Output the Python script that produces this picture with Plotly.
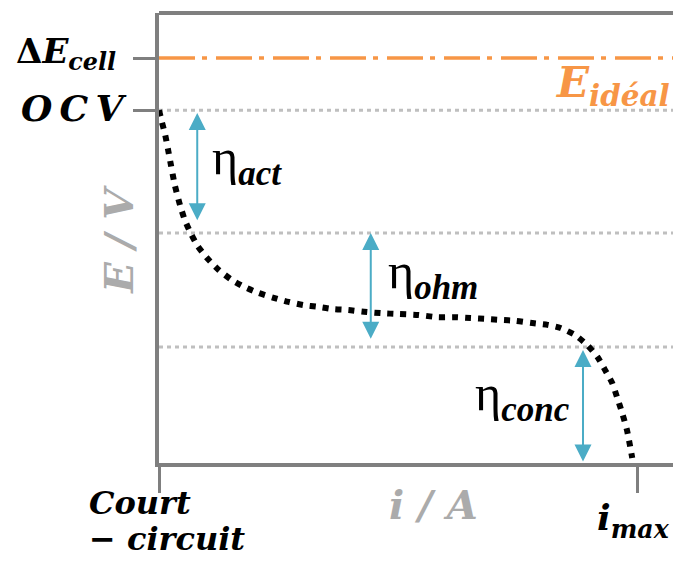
import plotly.graph_objects as go

# Polarisation curve of the cell (current normalised to i_max, potential normalised)
i_curve = [0.000, 0.006, 0.013, 0.019, 0.025, 0.033, 0.044, 0.054, 0.067, 0.081,
           0.100, 0.125, 0.152, 0.179, 0.208, 0.240, 0.271, 0.302, 0.333, 0.365,
           0.396, 0.429, 0.465, 0.502, 0.542, 0.583, 0.621, 0.652, 0.688, 0.715,
           0.746, 0.781, 0.813, 0.840, 0.871, 0.896, 0.917, 0.933, 0.948, 0.958,
           0.969, 0.979, 0.990]
e_curve = [0.784, 0.758, 0.729, 0.696, 0.662, 0.618, 0.573, 0.540, 0.509, 0.482,
           0.456, 0.429, 0.407, 0.391, 0.378, 0.367, 0.358, 0.351, 0.347, 0.342,
           0.340, 0.336, 0.333, 0.331, 0.329, 0.324, 0.324, 0.322, 0.320, 0.318,
           0.316, 0.311, 0.307, 0.300, 0.284, 0.262, 0.236, 0.207, 0.178, 0.147,
           0.111, 0.073, 0.011]

# Characteristic potential levels
e_ideal = 0.900
ocv = 0.784
act_end = 0.511
ohm_end = 0.258

# Overpotential arrows: x position, top, bottom
eta_names = ["act", "ohm", "conc"]
eta_x = [0.080, 0.443, 0.887]
eta_top = [0.778, 0.511, 0.251]
eta_bottom = [0.536, 0.273, 0.000]

GREY = "#7F7F7F"
LIGHT = "#BFBFBF"
ORANGE = "#F79646"
BLUE = "#4BACC6"
ETA_FONT = "Liberation Serif, DejaVu Serif, serif"
FONT = "DejaVu Serif, Liberation Serif, serif"

fig = go.Figure()

fig.add_trace(
    go.Scatter(
        x=i_curve,
        y=e_curve,
        mode="lines",
        line=dict(color="black", width=6, dash="6px,7px", shape="spline", smoothing=0.6),
        hoverinfo="skip",
        showlegend=False,
    )
)

# dotted reference levels
for level in [ocv, act_end, ohm_end]:
    fig.add_shape(
        type="line", xref="paper", x0=0, x1=1, yref="y", y0=level, y1=level,
        line=dict(color=LIGHT, width=3, dash="4px,4px"), layer="below",
    )

# ideal potential
fig.add_shape(
    type="line", xref="paper", x0=0, x1=1, yref="y", y0=e_ideal, y1=e_ideal,
    line=dict(color=ORANGE, width=3.5, dash="36px,7px,5px,9px"),
)

# top frame line
fig.add_shape(
    type="line", xref="paper", x0=0, x1=1, yref="paper", y0=1, y1=1,
    line=dict(color=GREY, width=4),
)

annotations = []

# double arrows for overpotentials
for x, top, bottom in zip(eta_x, eta_top, eta_bottom):
    annotations.append(
        dict(
            x=x, y=top, ax=x, ay=bottom, xref="x", yref="y", axref="x", ayref="y",
            text="", showarrow=True, arrowside="end+start",
            arrowhead=2, startarrowhead=2, arrowsize=1.7, startarrowsize=1.7,
            arrowwidth=2, arrowcolor=BLUE, standoff=0, startstandoff=0,
        )
    )

eta_font = dict(family=ETA_FONT, size=50, color="black")
annotations += [
    dict(x=0.107, y=0.672, xanchor="left", yanchor="middle",
         text="η<sub><b><i>act</i></b></sub>"),
    dict(x=0.475, y=0.418, xanchor="left", yanchor="middle",
         text="η<sub><b><i>ohm</i></b></sub>"),
    dict(x=0.864, y=0.146, xanchor="right", yanchor="middle",
         text="η<sub><b><i>conc</i></b></sub>"),
    dict(x=0.826, y=0.838, xanchor="left", yanchor="middle",
         text="<b><i>E</i></b><sub><b><i>idéal</i></b></sub>",
         font=dict(family=FONT, size=42, color=ORANGE)),
]
for a in annotations[-4:]:
    a.update(xref="x", yref="y", showarrow=False)
    a.setdefault("font", eta_font)

# labels outside the plotting area (paper coordinates)
label_font = dict(family=FONT, size=32, color="black")
axis_font = dict(family=FONT, size=40, color="#ABABAB")
annotations += [
    dict(x=-0.0785, y=0.911, xanchor="right", yanchor="middle",
         text="<b>Δ</b><b><i>E</i></b><sub><b><i>cell</i></b></sub>",
         font=dict(family=FONT, size=34, color="black")),
    dict(x=-0.0594, y=0.789, xanchor="right", yanchor="middle",
         text="<b><i>O\u2009C\u2009V</i></b>",
         font=dict(family=FONT, size=36, color="black")),
    dict(x=-0.0766, y=0.496, xanchor="center", yanchor="middle", textangle=-90,
         text="<b><i>E / V</i></b>", font=axis_font),
    dict(x=0.525, y=-0.093, xanchor="center", yanchor="middle",
         text="<b><i>i / A</i></b>", font=axis_font),
    dict(x=-0.138, y=-0.089, xanchor="left", yanchor="middle",
         text="<b><i>Court</i></b>", font=label_font),
    dict(x=-0.138, y=-0.168, xanchor="left", yanchor="middle",
         text="<b><i>− circuit</i></b>", font=label_font),
    dict(x=0.835, y=-0.127, xanchor="left", yanchor="middle",
         text="<b><i>i</i></b><sub><b><i>max</i></b></sub>",
         font=dict(family=FONT, size=36, color="black")),
]
for a in annotations[-7:]:
    a.update(xref="paper", yref="paper", showarrow=False)

fig.update_layout(
    width=673,
    height=553,
    margin=dict(l=151, r=0, t=5, b=98),
    paper_bgcolor="white",
    plot_bgcolor="white",
    annotations=annotations,
    xaxis=dict(
        range=[0, 1.092], showgrid=False, zeroline=False,
        showline=True, linecolor=GREY, linewidth=4,
        tickvals=[0, 1], ticks="outside", ticklen=26, tickwidth=3, tickcolor=GREY,
        showticklabels=False, fixedrange=True,
    ),
    yaxis=dict(
        range=[0, 1], showgrid=False, zeroline=False,
        showline=True, linecolor=GREY, linewidth=4,
        tickvals=[e_ideal, ocv], ticks="outside", ticklen=22, tickwidth=3, tickcolor=GREY,
        showticklabels=False, fixedrange=True,
    ),
    showlegend=False,
)

fig.write_html("out.html")
